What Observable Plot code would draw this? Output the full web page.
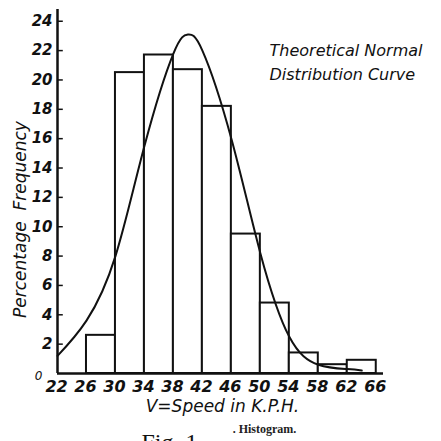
<!DOCTYPE html>
<html>
<head>
<meta charset="utf-8">
<script src="https://cdn.jsdelivr.net/npm/d3@7"></script>
<script src="https://cdn.jsdelivr.net/npm/@observablehq/plot@0.6"></script>
<style>
  html, body { margin: 0; padding: 0; background: #fff; overflow: hidden; }
  svg { display: block; }
</style>
</head>
<body>
<div id="chart"></div>
<script>
// Histogram classes (speed in K.P.H.) and percentage frequency
const binStart = [26, 30, 34, 38, 42, 46, 50, 54, 58, 62];
const binEnd   = [30, 34, 38, 42, 46, 50, 54, 58, 62, 66];
const freq     = [2.6, 20.5, 21.7, 20.7, 18.2, 9.5, 4.8, 1.4, 0.6, 0.9];

// Theoretical normal distribution curve
const curveX = [22, 26, 30, 34, 38, 40, 42, 46, 50, 54, 58, 62, 64];
const curveY = [1.2, 3.6, 8.0, 15.5, 21.8, 23.1, 22.0, 16.0, 8.2, 2.5, 0.6, 0.3, 0.2];

const xTicks = [22, 26, 30, 34, 38, 42, 46, 50, 54, 58, 62, 66];
const yTicks = [0, 2, 4, 6, 8, 10, 12, 14, 16, 18, 20, 22, 24];
const xDomain = [22, 67];
const yDomain = [0, 24.8];

const bars = binStart.map((s, i) => ({x1: s, x2: binEnd[i], y: freq[i]}));
const curve = curveX.map((x, i) => ({x, y: curveY[i]}));

const font = "'DejaVu Sans', sans-serif";

const chart = Plot.plot({
  width: 441,
  height: 441,
  marginLeft: 57,
  marginRight: 58,
  marginTop: 9,
  marginBottom: 68,
  style: {fontFamily: font, background: "#fff", color: "#111"},
  x: {domain: xDomain},
  y: {domain: yDomain},
  marks: [
    Plot.rectY(bars, {x1: "x1", x2: "x2", y: "y", fill: "#fff", stroke: "#111", strokeWidth: 2, inset: 0}),
    Plot.line(curve, {x: "x", y: "y", curve: "natural", stroke: "#111", strokeWidth: 2}),
    Plot.ruleX([xDomain[0]], {y1: yDomain[0], y2: yDomain[1], stroke: "#111", strokeWidth: 2.5}),
    Plot.ruleY([0], {x1: xDomain[0], x2: xDomain[1], stroke: "#111", strokeWidth: 2.5}),
    Plot.ruleY(yTicks.filter(d => d > 0), {x1: xDomain[0], x2: xDomain[0] + 0.8, stroke: "#111", strokeWidth: 1.5}),
    Plot.axisY(yTicks.filter(d => d > 0), {tickSize: 0, tickPadding: 5, label: null,
      fontSize: 15, fontStyle: "italic", fontWeight: "bold", tickFormat: d => String(d)}),
    Plot.axisY([0], {tickSize: 0, tickPadding: 15, dy: 3, label: null,
      fontSize: 12, fontStyle: "italic", tickFormat: d => String(d)}),
    Plot.axisX({ticks: xTicks, tickSize: 0, tickPadding: 7, label: null,
      fontSize: 16, fontStyle: "italic", fontWeight: "bold", dx: -1, tickFormat: d => String(d)}),
    Plot.text(["Percentage  Frequency"], {frameAnchor: "left", textAnchor: "middle", rotate: -90, dx: -37, dy: 28,
      fontSize: 17, fontStyle: "italic", fill: "#111", letterSpacing: 1.8}),
    Plot.text(["V=Speed in K.P.H."], {frameAnchor: "bottom", dy: 38, dx: 2,
      fontSize: 17, fontStyle: "italic", fill: "#111"}),
    Plot.text(["Theoretical Normal\nDistribution Curve"], {frameAnchor: "top-left", textAnchor: "start",
      dx: 212, dy: 29, lineHeight: 1.5, fontSize: 16, fontStyle: "italic", fill: "#111", letterSpacing: 1}),
    Plot.text([". Histogram."], {frameAnchor: "bottom", dx: 44, dy: 59,
      fontSize: 12, fontWeight: "bold", fontFamily: "'Liberation Serif', serif", fill: "#222"}),
    Plot.text(["Fig. 1."], {frameAnchor: "bottom", dx: -48, dy: 76,
      fontSize: 24, fontFamily: "'Liberation Serif', serif", fill: "#111", letterSpacing: 4})
  ]
});

document.getElementById("chart").appendChild(chart);
</script>
</body>
</html>
